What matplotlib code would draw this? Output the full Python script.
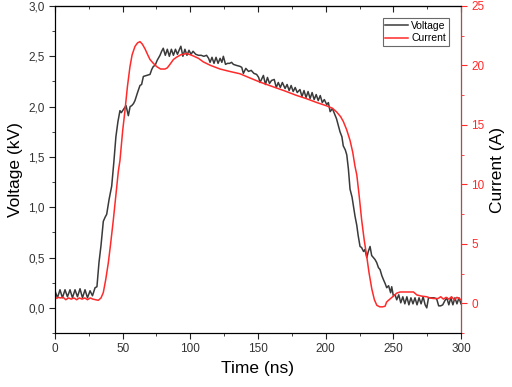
import matplotlib.pyplot as plt
from matplotlib.ticker import MultipleLocator, FuncFormatter

plt.rcParams['font.family'] = ['Liberation Sans', 'DejaVu Sans']

# Voltage (kV) trace
v_t = [0, 1.8, 3.7, 5.5, 7.4, 9.2, 11.1, 12.9, 14.8, 16.6, 18.5, 20.3, 22.2, 24.0, 25.9, 27.7,
       29.6, 31, 32.5, 34, 35.7, 37, 38.2, 40, 41.9, 43.5, 45, 46.5, 48, 49, 50.5, 52.5, 54.2,
       55.5, 56.7, 58, 59.1, 61, 62.8, 64, 65.3, 67.7, 70.2, 71.5, 72.7, 74, 75.5, 77.6, 78.8,
       80, 81.5, 83, 84.5, 86, 87.5, 89, 90.5, 92, 93, 94.5, 96, 97.5, 99, 100.5, 102, 104, 106,
       108, 110, 112, 113.5, 114.6, 116, 117.5, 119, 120.5, 122, 123.3, 124.4, 126, 127.5, 129,
       130.5, 131.8, 134, 136.7, 138, 139.2, 141, 143, 145, 147, 149, 150.5, 151.5, 154, 155.5,
       157, 158.5, 160, 162, 163.5, 165, 166.5, 168, 170, 171.5, 173, 174.5, 176, 177.5, 179,
       181, 182.5, 184, 185.5, 187, 188.5, 190, 191.5, 193, 194.5, 196, 197.5, 199, 200.8, 202,
       203.3, 205, 206.5, 208, 209, 210.6, 212, 213, 214.5, 215.6, 216.8, 218, 219.5, 221, 221.7,
       223, 224, 225.4, 226.5, 228, 229, 230.4, 231.5, 232.8, 234, 235.3, 236.5, 237.7, 239,
       240.2, 241.5, 242.7, 244, 245.1, 246.5, 248, 248.8, 250, 251.3, 252.5, 254, 255.5, 257,
       258.5, 260, 261.5, 263, 264.5, 266, 267.5, 269, 270.5, 272, 273.5, 274.7, 276, 278, 280,
       282, 283.5, 285, 286.5, 288, 289.5, 291, 292.5, 294, 295.5, 297, 298.5, 300]
voltage = [0.17, 0.10, 0.18, 0.10, 0.18, 0.11, 0.18, 0.10, 0.18, 0.11, 0.19, 0.10, 0.18, 0.10, 0.17,
           0.12, 0.20, 0.21, 0.45, 0.62, 0.86, 0.90, 0.93, 1.08, 1.21, 1.45, 1.70, 1.85, 1.96, 1.94,
           1.97, 2.01, 1.91, 2.00, 2.01, 2.03, 2.06, 2.14, 2.21, 2.22, 2.30, 2.31, 2.32, 2.37, 2.40,
           2.41, 2.46, 2.51, 2.55, 2.58, 2.51, 2.57, 2.50, 2.57, 2.51, 2.57, 2.52, 2.57, 2.60, 2.50,
           2.57, 2.51, 2.56, 2.52, 2.55, 2.52, 2.51, 2.51, 2.50, 2.51, 2.48, 2.44, 2.49, 2.43, 2.49,
           2.43, 2.48, 2.44, 2.50, 2.42, 2.43, 2.43, 2.44, 2.42, 2.41, 2.40, 2.39, 2.33, 2.38, 2.35,
           2.36, 2.33, 2.32, 2.29, 2.24, 2.31, 2.22, 2.29, 2.23, 2.26, 2.27, 2.19, 2.24, 2.19, 2.24,
           2.18, 2.22, 2.16, 2.21, 2.15, 2.19, 2.14, 2.17, 2.10, 2.16, 2.09, 2.15, 2.08, 2.14, 2.07,
           2.12, 2.06, 2.11, 2.04, 2.07, 2.02, 2.04, 1.95, 1.98, 1.93, 1.88, 1.83, 1.75, 1.70, 1.61,
           1.57, 1.52, 1.38, 1.18, 1.10, 0.97, 0.91, 0.82, 0.72, 0.61, 0.60, 0.56, 0.58, 0.50, 0.56,
           0.61, 0.52, 0.50, 0.48, 0.45, 0.40, 0.38, 0.32, 0.28, 0.24, 0.20, 0.22, 0.15, 0.21, 0.12,
           0.13, 0.08, 0.13, 0.05, 0.11, 0.04, 0.11, 0.03, 0.10, 0.04, 0.10, 0.03, 0.10, 0.04, 0.11,
           0.03, 0.00, 0.10, 0.10, 0.10, 0.09, 0.02, 0.02, 0.03, 0.07, 0.10, 0.03, 0.10, 0.03, 0.10,
           0.04, 0.10, 0.04]

# Current (A) trace
c_t = [0, 2, 4, 6, 8, 10, 12, 14, 16, 18, 20, 22, 24, 26, 28, 30, 32, 34, 35.7, 37.5, 39.4, 41,
       43.1, 45, 46.8, 48, 50, 51.7, 53.5, 55.4, 57, 59.1, 61, 62.8, 64.5, 66.5, 68.5, 70.2, 72.5,
       75.2, 78, 81.3, 83, 85, 87.5, 89.9, 93, 97.3, 100, 102.2, 106, 109.6, 115, 122, 129, 136.7,
       144, 151.5, 161.3, 170, 178, 186, 193, 200.8, 205, 208, 211, 213, 215.5, 218, 220, 221.7,
       223, 224.8, 226.6, 228.5, 230.4, 232, 234.1, 236, 237.8, 240, 242, 243.9, 245, 246.4, 249,
       252.5, 255, 260, 264.9, 267.4, 271, 274.7, 277, 279.6, 283, 285, 287, 289, 291, 293, 295,
       297, 300]
current = [0.35, 0.5, 0.45, 0.5, 0.3, 0.45, 0.35, 0.45, 0.3, 0.45, 0.35, 0.45, 0.3, 0.45, 0.35, 0.3,
           0.25, 0.45, 0.9, 2.0, 3.4, 4.9, 7.0, 9.1, 11.1, 12.0, 14.5, 16.2, 18.2, 19.9, 20.9, 21.6,
           21.9, 22.0, 21.8, 21.4, 20.9, 20.5, 20.2, 19.9, 19.7, 19.7, 19.8, 20.1, 20.5, 20.7, 20.9,
           21.0, 20.9, 20.8, 20.6, 20.3, 20.0, 19.7, 19.5, 19.3, 18.95, 18.6, 18.2, 17.85, 17.5,
           17.2, 16.9, 16.6, 16.4, 16.1, 15.7, 15.3, 14.6, 13.7, 12.7, 11.5, 10.8, 9.0, 7.0, 5.3,
           3.9, 2.6, 1.2, 0.3, -0.17, -0.3, -0.3, -0.25, 0.1, 0.25, 0.5, 0.85, 0.95, 0.95, 0.95,
           0.7, 0.6, 0.55, 0.45, 0.4, 0.4, 0.55, 0.35, 0.5, 0.35, 0.55, 0.3, 0.5, 0.3]

red = '#ff2a2a'

fig = plt.figure(figsize=(5.12, 3.87), dpi=100)
ax = fig.add_axes([0.1074, 0.1395, 0.793, 0.845])
ax2 = ax.twinx()

l1, = ax.plot(v_t, voltage, color='#3a3a3a', lw=1.1, label='Voltage')
l2, = ax2.plot(c_t, current, color=red, lw=1.1, label='Current')

ax.set_xlim(0, 300)
ax.set_ylim(-0.25, 3.0)
ax2.set_ylim(-2.5, 25)

ax.xaxis.set_major_locator(MultipleLocator(50))
ax.xaxis.set_minor_locator(MultipleLocator(25))
ax.yaxis.set_major_locator(MultipleLocator(0.5))
ax.yaxis.set_minor_locator(MultipleLocator(0.25))
ax.yaxis.set_major_formatter(FuncFormatter(lambda v, p: f'{v:.1f}'.replace('.', ',')))
ax2.yaxis.set_major_locator(MultipleLocator(5))
ax2.yaxis.set_minor_locator(MultipleLocator(2.5))

ax.tick_params(axis='both', which='both', direction='out', labelsize=8.5,
               colors='#222222', labelcolor='#333333')
ax.tick_params(which='major', length=4)
ax.tick_params(which='minor', length=2.5)
ax2.tick_params(axis='y', which='both', direction='out', colors=red, labelsize=8.5)
ax2.tick_params(which='major', length=4)
ax2.tick_params(which='minor', length=2.5)
ax2.spines['right'].set_color(red)

# top axis: ticks pointing inward, no labels
top = ax.secondary_xaxis('top')
top.xaxis.set_major_locator(MultipleLocator(50))
top.xaxis.set_minor_locator(MultipleLocator(25))
top.tick_params(which='both', direction='in', labeltop=False, colors='#222222')
top.tick_params(which='major', length=4)
top.tick_params(which='minor', length=2.5)

ax.set_xlabel('Time (ns)', fontsize=12.5)
ax.set_ylabel('Voltage (kV)', fontsize=12.5)
ax2.set_ylabel('Current (A)', fontsize=12.5)

leg = ax.legend([l1, l2], ['Voltage', 'Current'], loc='upper right', fontsize=7.5,
                fancybox=False, edgecolor='#444444', borderpad=0.25, handlelength=2.2,
                labelspacing=0.2, borderaxespad=1.2, handletextpad=0.3)
leg.get_frame().set_linewidth(0.8)

fig.savefig('out.png', dpi=100)
